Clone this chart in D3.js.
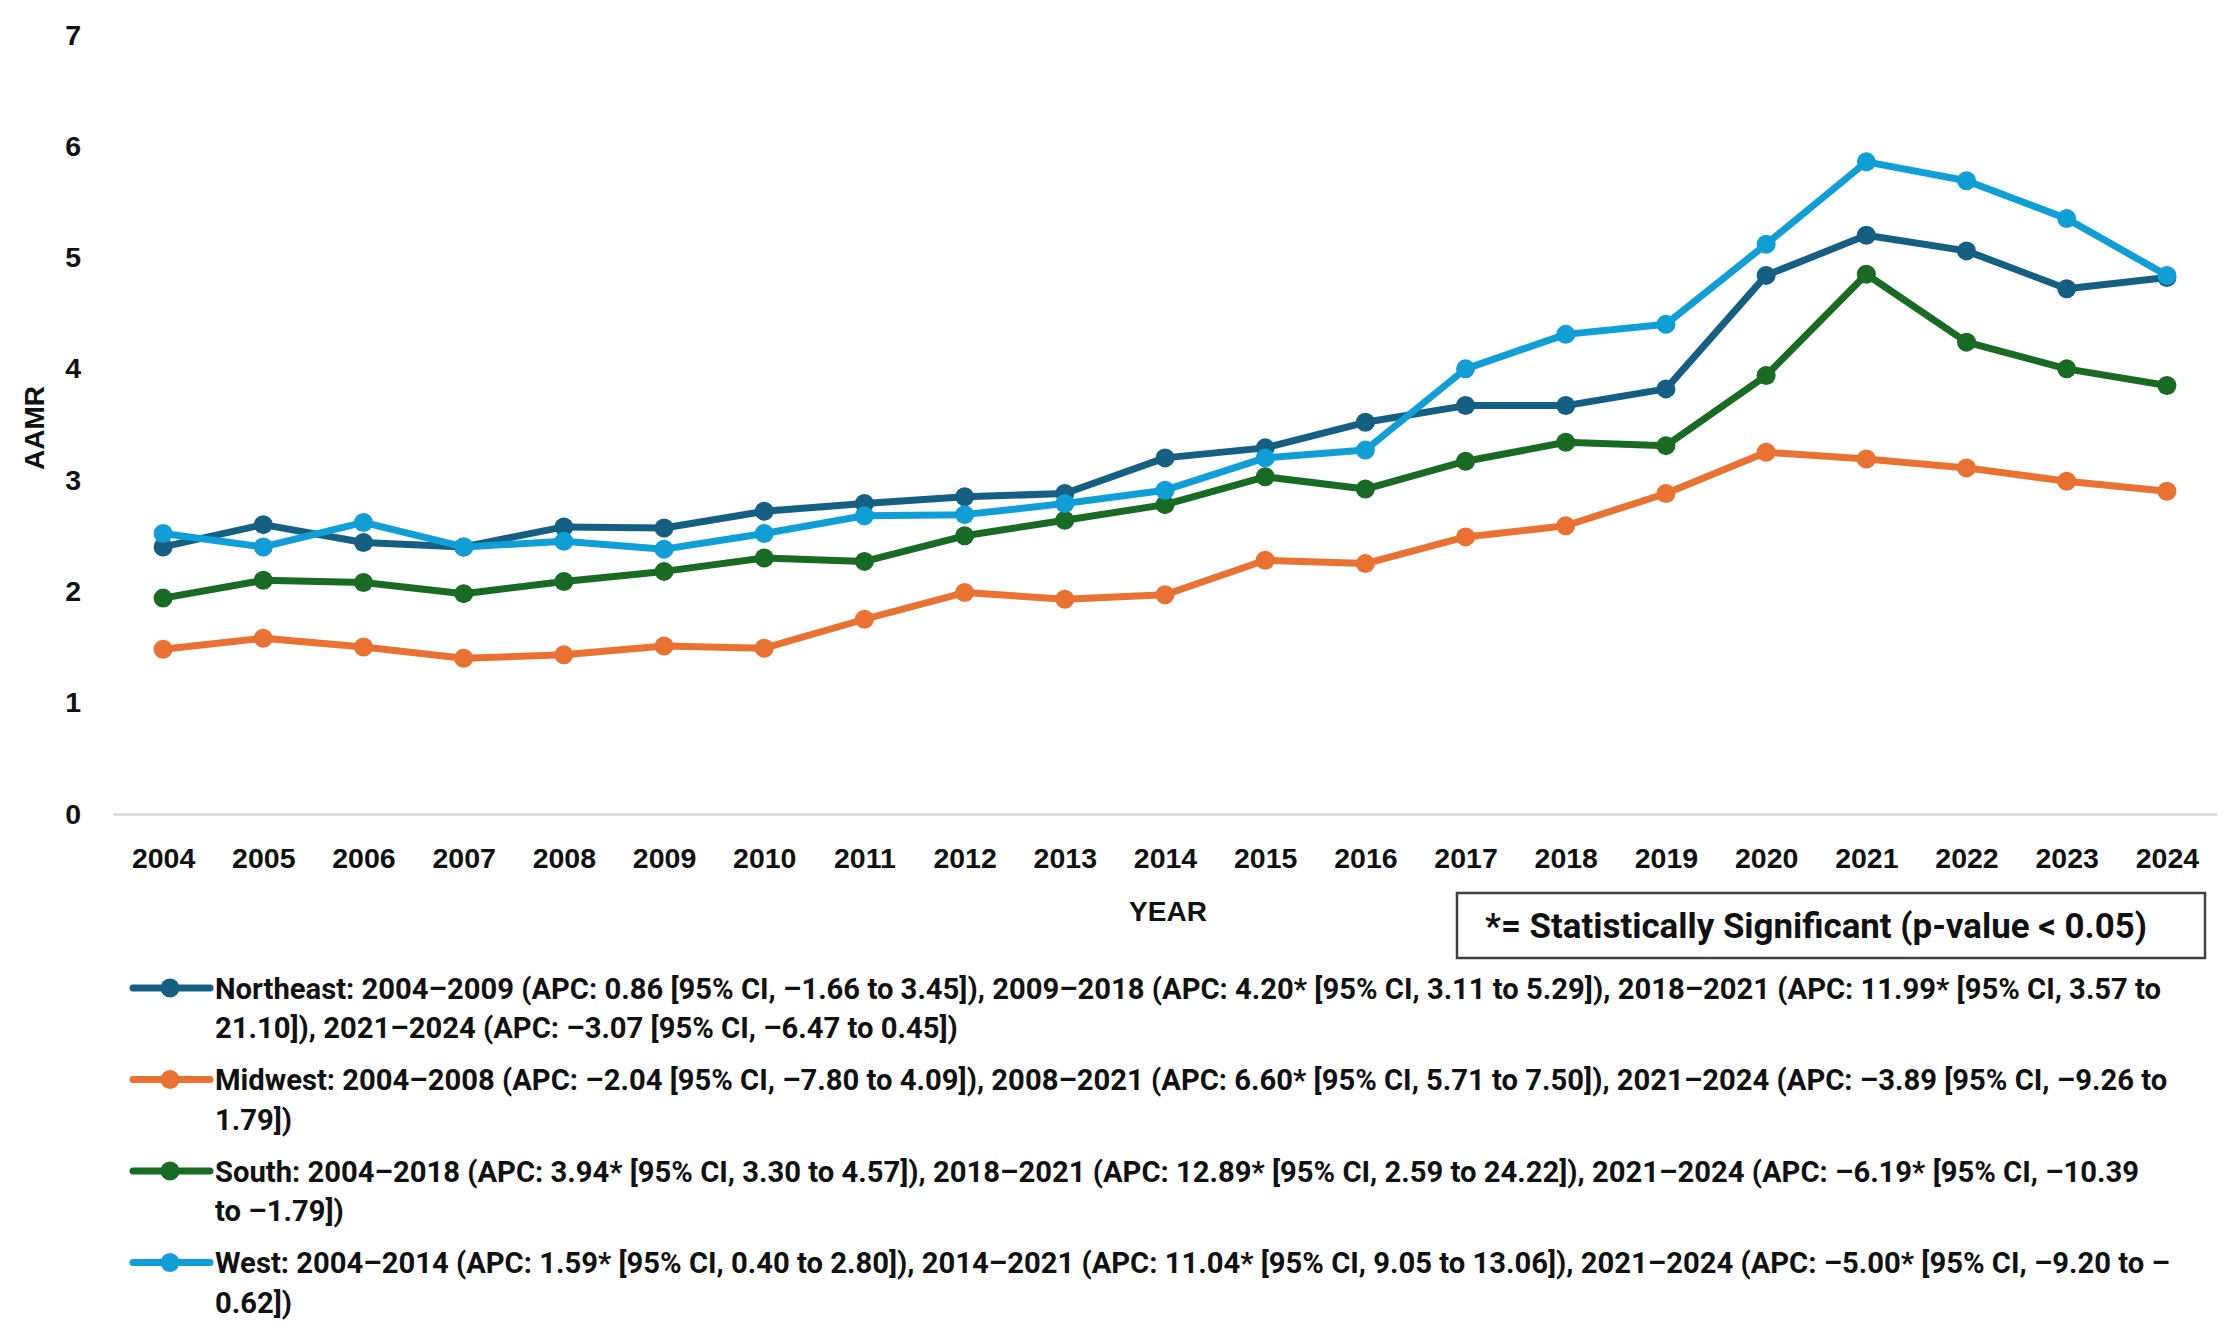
<!DOCTYPE html>
<html>
<head>
<meta charset="utf-8">
<script src="https://cdn.jsdelivr.net/npm/d3@7"></script>
<style>
  html, body { margin: 0; padding: 0; background: #fff; }
  svg { display: block; }
  text { font-family: "Liberation Sans", Arial, sans-serif; font-weight: bold; fill: #111; }
  text.narrow { font-family: "Liberation Sans Narrow", "Roboto", "Liberation Sans", sans-serif; }
</style>
</head>
<body>
<svg id="chart" width="2237" height="1340"></svg>
<script>
// ---- Data ----
const years = [2004,2005,2006,2007,2008,2009,2010,2011,2012,2013,2014,2015,2016,2017,2018,2019,2020,2021,2022,2023,2024];
const seriesNames = ["Northeast", "Midwest", "South", "West"];
const seriesColors = ["#156082", "#E97132", "#196B24", "#0F9ED5"];
const northeast = [2.40,2.60,2.44,2.40,2.58,2.57,2.72,2.79,2.85,2.88,3.20,3.29,3.52,3.67,3.67,3.82,4.84,5.20,5.06,4.72,4.82];
const midwest   = [1.48,1.58,1.50,1.40,1.43,1.51,1.49,1.75,1.99,1.93,1.97,2.28,2.25,2.49,2.59,2.88,3.25,3.19,3.11,2.99,2.90];
const south     = [1.94,2.10,2.08,1.98,2.09,2.18,2.30,2.27,2.50,2.64,2.78,3.03,2.92,3.17,3.34,3.31,3.94,4.85,4.24,4.00,3.85];
const west      = [2.52,2.40,2.62,2.40,2.45,2.38,2.52,2.68,2.69,2.79,2.91,3.20,3.27,4.00,4.31,4.40,5.12,5.86,5.69,5.35,4.84];
const yTicks = [0,1,2,3,4,5,6,7];
const xTitle = "YEAR";
const yTitle = "AAMR";
const noteText = "*= Statistically Significant (p-value < 0.05)";
const legendLines = [
  ["Northeast: 2004–2009 (APC: 0.86 [95% CI, –1.66 to 3.45]), 2009–2018 (APC: 4.20* [95% CI, 3.11 to 5.29]), 2018–2021 (APC: 11.99* [95% CI, 3.57 to",
   "21.10]), 2021–2024 (APC: –3.07 [95% CI, –6.47 to 0.45])"],
  ["Midwest: 2004–2008 (APC: –2.04 [95% CI, –7.80 to 4.09]), 2008–2021 (APC: 6.60* [95% CI, 5.71 to 7.50]), 2021–2024 (APC: –3.89 [95% CI, –9.26 to",
   "1.79])"],
  ["South: 2004–2018 (APC: 3.94* [95% CI, 3.30 to 4.57]), 2018–2021 (APC: 12.89* [95% CI, 2.59 to 24.22]), 2021–2024 (APC: –6.19* [95% CI, –10.39",
   "to –1.79])"],
  ["West: 2004–2014 (APC: 1.59* [95% CI, 0.40 to 2.80]), 2014–2021 (APC: 11.04* [95% CI, 9.05 to 13.06]), 2021–2024 (APC: –5.00* [95% CI, –9.20 to –",
   "0.62])"]
];
const seriesValues = [northeast, midwest, south, west];

// ---- Layout ----
const svg = d3.select("#chart");
const plotLeft = 113, plotRight = 2217, plotTop = 35, plotBottom = 814;

const x = d3.scalePoint().domain(years).range([plotLeft, plotRight]).padding(0.5);
const y = d3.scaleLinear().domain([0, 7]).range([plotBottom, plotTop]);

const tickFont = 28.5;

// X axis
const xAxis = svg.append("g")
  .attr("transform", `translate(0,${plotBottom})`)
  .call(d3.axisBottom(x).tickSize(0).tickPadding(34).tickSizeOuter(0));
xAxis.select(".domain").attr("stroke", "#d9d9d9").attr("stroke-width", 2.5);
xAxis.selectAll("text").style("font-size", tickFont + "px").style("font-family", null).attr("fill", "#111");

// Y axis
const yAxis = svg.append("g")
  .attr("transform", `translate(${plotLeft},0)`)
  .call(d3.axisLeft(y).tickValues(yTicks).tickFormat(d3.format("d")).tickSize(0).tickPadding(32));
yAxis.select(".domain").remove();
yAxis.selectAll("text").style("font-size", tickFont + "px").style("font-family", null).attr("fill", "#111");

// Axis titles
svg.append("text").attr("x", 1168).attr("y", 911).attr("dy", "0.35em")
  .attr("text-anchor", "middle").style("font-size", "28px").text(xTitle);
svg.append("text").attr("transform", "translate(34,428) rotate(-90)").attr("dy", "0.35em")
  .attr("text-anchor", "middle").style("font-size", "28px").text(yTitle);

// Lines & markers
const line = d3.line().x((d, i) => x(years[i])).y(d => y(d));
seriesValues.forEach((vals, si) => {
  const g = svg.append("g");
  g.append("path").datum(vals).attr("d", line)
    .attr("fill", "none").attr("stroke", seriesColors[si]).attr("stroke-width", 7)
    .attr("stroke-linejoin", "round").attr("stroke-linecap", "round");
  g.selectAll("circle").data(vals).join("circle")
    .attr("cx", (d, i) => x(years[i])).attr("cy", d => y(d)).attr("r", 9.5)
    .attr("fill", seriesColors[si]);
});

// Helper: fit text to width
function fitWidth(sel, target, base) {
  sel.style("font-size", base + "px");
  const w = sel.node().getComputedTextLength();
  const fs = base * target / w;
  sel.style("font-size", fs + "px");
  return fs;
}

// Note box
const boxX0 = 1457, boxX1 = 2205, boxY0 = 893, boxY1 = 958;
svg.append("rect").attr("x", boxX0).attr("y", boxY0).attr("width", boxX1 - boxX0).attr("height", boxY1 - boxY0)
  .attr("fill", "#fff").attr("stroke", "#404040").attr("stroke-width", 2.5);
const note = svg.append("text").attr("class", "narrow").attr("x", 1816).attr("y", (boxY0 + boxY1) / 2).attr("dy", "0.36em")
  .attr("text-anchor", "middle").text(noteText);
fitWidth(note, 662, 30);

// Legend
const legendY0 = 988, legendStep = 91.5, lineGap = 39.5, textX = 215;
let legendFs = null;
legendLines.forEach((lines, i) => {
  const cy = legendY0 + i * legendStep;
  svg.append("line").attr("x1", 133).attr("x2", 210).attr("y1", cy).attr("y2", cy)
    .attr("stroke", seriesColors[i]).attr("stroke-width", 7).attr("stroke-linecap", "round");
  svg.append("circle").attr("cx", 170).attr("cy", cy).attr("r", 9.5).attr("fill", seriesColors[i]);
  lines.forEach((t, j) => {
    const tx = svg.append("text").attr("class", "narrow").attr("x", textX).attr("y", cy + j * lineGap).attr("dy", "0.36em").text(t);
    if (legendFs === null) legendFs = fitWidth(tx, 1947, 28);
    else tx.style("font-size", legendFs + "px");
  });
});
</script>
</body>
</html>
